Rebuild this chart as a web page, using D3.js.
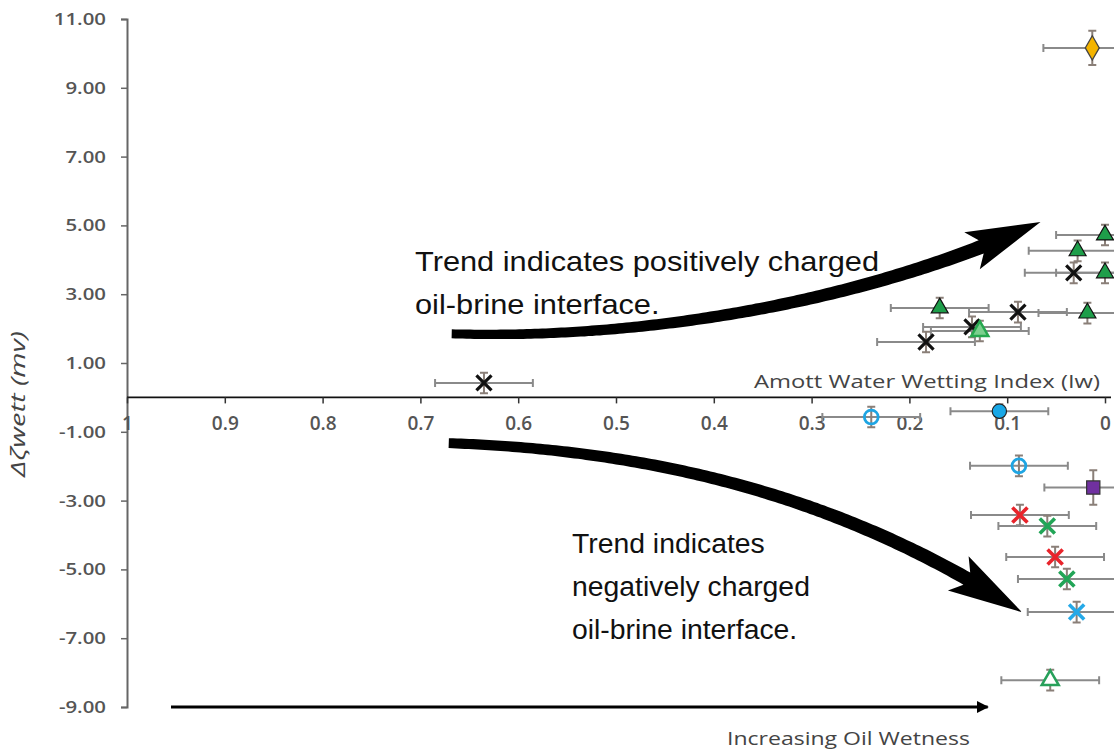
<!DOCTYPE html>
<html lang="en">
<head>
<meta charset="UTF-8">
<title>Zeta potential vs Amott index</title>
<script src="https://cdnjs.cloudflare.com/ajax/libs/d3/7.8.5/d3.min.js"></script>
<style>
    * { margin: 0; padding: 0; }
    body { background: #fff; }
    .tick text { font-family: "Open Sans", sans-serif; font-weight: 600; fill: #555; }
    .note { font-family: "Liberation Sans", Arial, sans-serif; fill: #111; }
    .label { font-family: "Open Sans", sans-serif; fill: #444; }
</style>
</head>
<body>
<div id="chart"></div>
<script>
"use strict";

// [Iw, delta zeta, error Iw, error zeta]
var blackCross = [[0.635, 0.42, 0.05, 0.3], [0.183, 1.61, 0.05, 0.3], [0.136, 2.05, 0.05, 0.3],
                  [0.089, 2.48, 0.05, 0.3], [0.032, 3.62, 0.05, 0.3]];
var greenTriangle = [[0.169, 2.60, 0.05, 0.3], [0.018, 2.45, 0.05, 0.3], [0.000, 3.62, 0.05, 0.3],
                     [0.028, 4.26, 0.05, 0.3], [0.000, 4.72, 0.05, 0.3]];
var lightTriangle = [[0.128, 1.93, 0.05, 0.3]];
var openTriangle = [[0.056, -8.22, 0.05, 0.3]];
var goldDiamond = [[0.013, 10.16, 0.05, 0.5]];
var openCircle = [[0.239, -0.57, 0.05, 0.3], [0.088, -1.99, 0.05, 0.3]];
var blueCircle = [[0.108, -0.40, 0.05, 0.2]];
var purpleSquare = [[0.012, -2.62, 0.05, 0.5]];
var redCross = [[0.087, -3.42, 0.05, 0.3], [0.051, -4.64, 0.05, 0.3]];
var greenCross = [[0.059, -3.74, 0.05, 0.3], [0.039, -5.28, 0.05, 0.3]];
var blueCross = [[0.029, -6.24, 0.05, 0.3]];

var xTicks = [1, 0.9, 0.8, 0.7, 0.6, 0.5, 0.4, 0.3, 0.2, 0.1, 0];
var yTicks = [11, 9, 7, 5, 3, 1, -1, -3, -5, -7, -9];

// trend arrows: tail, two bends, tip (in data units)
var upArrow = [[0.668, 1.85], [0.465, 1.67], [0.240, 2.83], [0.066, 5.10]];
var downArrow = [[0.671, -1.33], [0.450, -1.55], [0.260, -3.00], [0.085, -6.24]];
var wetArrow = [[0.955, -9], [0.12, -9]];

(function () {
    var width = 1114, height = 751;

    var svg = d3.select('#chart').append('svg')
        .attr('width', width)
        .attr('height', height);

    var x = d3.scaleLinear().domain([1, 0]).range([127, 1105]);
    var y = d3.scaleLinear().domain([-9, 11]).range([707, 19]);

    // y axis
    var yAxis = svg.append('g')
        .attr('transform', 'translate(' + x(1) + ',0)')
        .call(d3.axisLeft(y).tickValues(yTicks).tickSizeOuter(0).tickSize(6)
            .tickFormat(function (d) { return d.toFixed(2); }));
    yAxis.select('.domain').attr('stroke', '#666').attr('stroke-width', 2);
    yAxis.selectAll('.tick line').attr('stroke', '#666').attr('stroke-width', 1.5);
    yAxis.selectAll('.tick text').style('font-size', '17px')
        .attr('x', -21 / 1.2).attr('transform', 'scale(1.2,1)');

    // x axis on zero line
    var xAxis = svg.append('g')
        .attr('transform', 'translate(0,' + y(0) + ')')
        .call(d3.axisBottom(x).tickValues(xTicks).tickSizeOuter(0).tickSize(6).tickPadding(13)
            .tickFormat(function (d) { return d === 1 || d === 0 ? String(d) : d.toFixed(1); }));
    xAxis.select('.domain').attr('stroke', '#111').attr('stroke-width', 1.8).attr('d', 'M' + x(1) + ',0H' + (x(0) + 6));
    xAxis.selectAll('.tick line').attr('stroke', '#333').attr('stroke-width', 1.5);
    xAxis.selectAll('.tick text').style('font-size', '19px');

    svg.append('text').attr('class', 'label')
        .attr('x', 1100).attr('y', y(0) - 9)
        .attr('text-anchor', 'end').style('font-size', '18px')
        .attr('textLength', 346).attr('lengthAdjust', 'spacingAndGlyphs')
        .text('Amott Water Wetting Index (Iw)');

    svg.append('text').attr('class', 'label')
        .attr('transform', 'translate(25,' + 404 + ') rotate(-90)')
        .attr('text-anchor', 'middle').style('font-size', '20px').style('font-style', 'italic')
        .attr('textLength', 146).attr('lengthAdjust', 'spacingAndGlyphs')
        .text('\u0394\u03B6wett (mv)');

    // curved trend arrows
    function arrowShape(pts, tailW, neckW, headL, headW) {
        var p = pts.map(function (d) { return [x(d[0]), y(d[1])]; });
        var n = 160, samples = [], len = [0];
        for (var i = 0; i <= n; i++) {
            var t = i / n, a = Math.pow(1 - t, 3), b = 3 * Math.pow(1 - t, 2) * t, c = 3 * (1 - t) * t * t, e = t * t * t;
            samples.push([a * p[0][0] + b * p[1][0] + c * p[2][0] + e * p[3][0],
                          a * p[0][1] + b * p[1][1] + c * p[2][1] + e * p[3][1]]);
            if (i > 0) len.push(len[i - 1] + Math.hypot(samples[i][0] - samples[i - 1][0], samples[i][1] - samples[i - 1][1]));
        }
        var total = len[n], neckIdx = n;
        while (neckIdx > 0 && total - len[neckIdx] < headL) neckIdx--;
        var left = [], right = [];
        for (var k = 0; k <= neckIdx; k++) {
            var prev = samples[Math.max(k - 1, 0)], next = samples[Math.min(k + 1, n)];
            var dx = next[0] - prev[0], dy = next[1] - prev[1], m = Math.hypot(dx, dy);
            var nx = -dy / m, ny = dx / m;
            var w = (tailW + (neckW - tailW) * (len[k] / len[neckIdx])) / 2;
            left.push([samples[k][0] + nx * w, samples[k][1] + ny * w]);
            right.push([samples[k][0] - nx * w, samples[k][1] - ny * w]);
        }
        var neck = samples[neckIdx], tip = samples[n];
        var hx = tip[0] - neck[0], hy = tip[1] - neck[1], hm = Math.hypot(hx, hy);
        var ux = hx / hm, uy = hy / hm, px = -uy, py = ux;
        var back = 10;
        var barbL = [neck[0] + px * headW / 2 - ux * back, neck[1] + py * headW / 2 - uy * back];
        var barbR = [neck[0] - px * headW / 2 - ux * back, neck[1] - py * headW / 2 - uy * back];
        var poly = left.concat([barbL, tip, barbR]).concat(right.reverse());
        return 'M' + poly.map(function (d) { return d[0].toFixed(1) + ',' + d[1].toFixed(1); }).join('L') + 'Z';
    }

    svg.append('path').attr('d', arrowShape(upArrow, 9, 14, 64, 40)).attr('fill', '#000');
    svg.append('path').attr('d', arrowShape(downArrow, 10, 14, 64, 40)).attr('fill', '#000');

    // oil wetness arrow
    svg.append('defs').append('marker')
        .attr('id', 'head').attr('viewBox', '0 0 10 10').attr('refX', 9).attr('refY', 5)
        .attr('markerWidth', 4).attr('markerHeight', 4).attr('orient', 'auto')
        .append('path').attr('d', 'M0,0L10,5L0,10Z').attr('fill', '#000');
    svg.append('line')
        .attr('x1', x(wetArrow[0][0])).attr('y1', y(wetArrow[0][1]))
        .attr('x2', x(wetArrow[1][0])).attr('y2', y(wetArrow[1][1]))
        .attr('stroke', '#000').attr('stroke-width', 3).attr('marker-end', 'url(#head)');
    svg.append('text').attr('class', 'label')
        .attr('x', 727).attr('y', 745).style('font-size', '18px')
        .attr('textLength', 243).attr('lengthAdjust', 'spacingAndGlyphs')
        .text('Increasing Oil Wetness');

    // annotation text
    var noteUp = svg.append('text').attr('class', 'note').style('font-size', '27px')
        .attr('transform', 'translate(415,0) scale(1.14,1)');
    noteUp.append('tspan').attr('x', 0).attr('y', 271).text('Trend indicates positively charged');
    noteUp.append('tspan').attr('x', 0).attr('y', 314).text('oil-brine interface.');
    var noteDown = svg.append('text').attr('class', 'note').style('font-size', '27px')
        .attr('transform', 'translate(572,0) scale(1.05,1)');
    noteDown.append('tspan').attr('x', 0).attr('y', 553).text('Trend indicates');
    noteDown.append('tspan').attr('x', 0).attr('y', 596).text('negatively charged');
    noteDown.append('tspan').attr('x', 0).attr('y', 639).text('oil-brine interface.');

    // data series
    var series = [
        { data: blackCross, type: d3.symbolTimes, size: 150, fill: 'none', stroke: '#111', sw: 3.2 },
        { data: greenTriangle, type: d3.symbolTriangle, size: 125, fill: '#1e9e4a', stroke: '#111', sw: 1.2 },
        { data: lightTriangle, type: d3.symbolTriangle, size: 125, fill: '#7ccf8e', stroke: '#27a84f', sw: 2.5 },
        { data: openTriangle, type: d3.symbolTriangle, size: 125, fill: '#fff', stroke: '#27a05a', sw: 2.5 },
        { data: goldDiamond, type: d3.symbolDiamond, size: 170, fill: '#f4b400', stroke: '#444', sw: 1.3 },
        { data: openCircle, type: d3.symbolCircle, size: 150, fill: 'none', stroke: '#1ea5e3', sw: 2.8 },
        { data: blueCircle, type: d3.symbolCircle, size: 160, fill: '#18a7e6', stroke: '#222', sw: 1.2 },
        { data: purpleSquare, type: d3.symbolSquare, size: 175, fill: '#7030a0', stroke: '#333', sw: 1.2 },
        { data: redCross, type: d3.symbolTimes, size: 150, fill: 'none', stroke: '#e8242b', sw: 3.6 },
        { data: greenCross, type: d3.symbolTimes, size: 150, fill: 'none', stroke: '#22a557', sw: 3.6 },
        { data: blueCross, type: d3.symbolTimes, size: 150, fill: 'none', stroke: '#25a9e8', sw: 3.6 }
    ];

    var bars = svg.append('g').attr('stroke', '#8a8a8a').attr('stroke-width', 2);
    var cap = 4;
    series.forEach(function (s) {
        s.data.forEach(function (d) {
            var cx = x(d[0]), cy = y(d[1]), x0 = x(d[0] + d[2]), x1 = x(d[0] - d[2]);
            var y0 = y(d[1] + d[3]), y1 = y(d[1] - d[3]);
            bars.append('path').attr('fill', 'none')
                .attr('d', 'M' + x0 + ',' + cy + 'H' + x1 +
                    'M' + x0 + ',' + (cy - cap) + 'V' + (cy + cap) +
                    'M' + x1 + ',' + (cy - cap) + 'V' + (cy + cap));
            bars.append('path').attr('fill', 'none').attr('stroke', '#8a7f78')
                .attr('d', 'M' + cx + ',' + y0 + 'V' + y1 +
                    'M' + (cx - cap) + ',' + y0 + 'H' + (cx + cap) +
                    'M' + (cx - cap) + ',' + y1 + 'H' + (cx + cap));
        });
    });

    var marks = svg.append('g');
    series.forEach(function (s) {
        marks.selectAll(null).data(s.data).enter().append('path')
            .attr('transform', function (d) { return 'translate(' + x(d[0]) + ',' + y(d[1]) + ')'; })
            .attr('d', d3.symbol().type(s.type).size(s.size))
            .attr('fill', s.fill).attr('stroke', s.stroke).attr('stroke-width', s.sw);
    });
})();
</script>
</body>
</html>
